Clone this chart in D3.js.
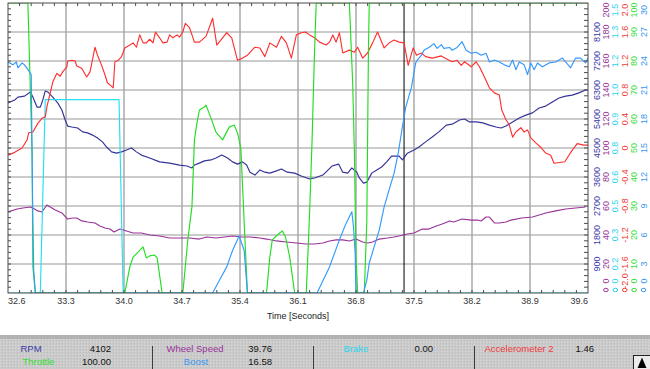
<!DOCTYPE html>
<html>
<head>
<meta charset="utf-8">
<script src="https://cdn.jsdelivr.net/npm/d3@7"></script>
<style>
  body { margin: 0; background: #fff; }
  svg { display: block; font-family: "Liberation Sans", Arial, sans-serif; }
</style>
</head>
<body>
<svg id="chart" width="650" height="369"></svg>
<script>
// time axis (seconds)
var timeTicks = [32.6, 33.3, 34.0, 34.7, 35.4, 36.1, 36.8, 37.5, 38.2, 38.9, 39.6];
var cursorTime = 37.38;

// RPM
var rpmTime = [32.60,32.68,32.72,32.80,32.87,32.90,32.95,32.99,33.02,33.05,33.08,33.14,33.20,33.25,33.29,33.32,33.37,33.44,33.50,33.56,33.62,33.68,33.74,33.79,33.85,33.91,33.97,34.03,34.09,34.15,34.21,34.31,34.43,34.55,34.67,34.76,34.82,34.85,34.91,34.97,35.05,35.11,35.18,35.25,35.31,35.37,35.43,35.48,35.52,35.58,35.64,35.70,35.76,35.84,35.90,35.97,36.06,36.14,36.24,36.30,36.40,36.51,36.59,36.64,36.70,36.75,36.81,36.84,36.89,36.93,36.99,37.05,37.11,37.17,37.23,37.29,37.32,37.36,37.42,37.50,37.56,37.64,37.72,37.80,37.89,37.96,38.05,38.11,38.17,38.25,38.33,38.41,38.49,38.55,38.61,38.69,38.77,38.85,38.93,39.01,39.09,39.17,39.25,39.33,39.41,39.49,39.57,39.60];
var rpmValue = [5900,5990,6080,6110,6240,6080,5770,5770,5990,6270,6240,6080,5900,5680,5370,5180,5150,5120,5000,4970,4900,4810,4690,4530,4380,4340,4380,4440,4500,4380,4280,4190,4070,4030,3970,3940,3880,3970,4030,4100,4130,4190,4280,4190,4070,4000,4070,3970,3750,3660,3820,3750,3720,3790,3850,3750,3720,3630,3540,3570,3660,3940,4000,3750,3720,3880,3750,3570,3410,3440,3720,3820,3910,4070,4250,4250,4250,4130,4340,4440,4530,4690,4840,5000,5210,5240,5370,5400,5310,5310,5280,5210,5150,5120,5180,5310,5430,5520,5590,5740,5800,5930,6050,6110,6140,6210,6300,6300];

// Wheel Speed
var wheelTime = [32.60,32.71,32.78,32.87,32.90,32.96,33.01,33.07,33.11,33.17,33.25,33.32,33.38,33.43,33.49,33.56,33.65,33.71,33.77,33.83,33.88,33.95,34.03,34.11,34.21,34.31,34.43,34.55,34.79,34.91,35.00,35.11,35.21,35.31,35.43,35.52,35.64,35.72,35.84,35.96,36.08,36.20,36.30,36.40,36.48,36.56,36.64,36.72,36.80,36.88,36.94,37.00,37.08,37.18,37.26,37.32,37.42,37.50,37.60,37.68,37.77,37.84,37.93,37.98,38.08,38.19,38.27,38.31,38.37,38.41,38.47,38.53,38.61,38.67,38.80,38.93,39.09,39.21,39.33,39.45,39.57];
var wheelValue = [55.9,57.9,58.6,59.3,58.6,56.6,55.9,60.7,59.3,57.2,55.2,51.0,51.7,51.7,49.7,49.0,48.3,46.2,44.8,44.1,42.1,44.1,42.8,41.4,41.4,40.0,39.3,37.9,37.9,37.2,38.6,37.9,38.6,39.3,38.6,38.6,37.9,37.2,35.9,35.2,34.5,33.8,33.8,34.5,35.9,36.6,36.6,35.9,37.2,35.2,34.5,35.2,37.2,37.9,38.6,39.3,40.7,41.4,44.1,44.1,46.2,47.6,49.7,49.0,51.0,50.3,50.3,49.7,52.4,52.4,48.3,48.3,49.0,50.3,51.7,52.4,55.2,56.6,57.9,58.6,59.3];

// Brake
var brakeTime = [32.60,32.99,33.05,33.94,33.99,39.60];
var brakeValue = [0,0,1.0,1.0,0,0];

// Accelerometer 2
var accTime = [32.60,32.68,32.77,32.83,32.85,32.90,32.96,33.01,33.05,33.07,33.11,33.14,33.19,33.23,33.26,33.31,33.32,33.37,33.41,33.43,33.49,33.55,33.59,33.65,33.68,33.73,33.77,33.80,33.83,33.87,33.89,33.93,33.97,34.01,34.07,34.11,34.15,34.19,34.23,34.27,34.31,34.35,34.38,34.43,34.47,34.52,34.55,34.59,34.64,34.67,34.71,34.74,34.79,34.85,34.91,34.99,35.07,35.12,35.19,35.24,35.30,35.37,35.43,35.49,35.58,35.64,35.70,35.76,35.84,35.90,35.96,36.02,36.08,36.14,36.19,36.24,36.30,36.36,36.44,36.48,36.52,36.56,36.60,36.64,36.72,36.78,36.82,36.88,36.94,37.00,37.06,37.14,37.20,37.26,37.32,37.38,37.43,37.49,37.53,37.59,37.64,37.72,37.83,37.89,37.96,38.02,38.07,38.11,38.19,38.25,38.29,38.35,38.41,38.47,38.53,38.56,38.61,38.65,38.69,38.73,38.79,38.83,38.87,38.91,38.97,39.03,39.09,39.15,39.19,39.32,39.37,39.41,39.47,39.55,39.60];
var accValue = [-0.10,-0.06,0.00,0.11,0.21,0.22,0.34,0.41,0.43,0.57,0.76,0.91,1.03,0.99,1.05,1.12,1.20,1.21,1.20,1.13,1.10,0.98,1.05,1.39,1.28,1.14,1.01,0.90,0.87,0.83,1.19,1.21,1.26,1.38,1.42,1.45,1.39,1.56,1.45,1.45,1.50,1.45,1.60,1.52,1.45,1.46,1.56,1.52,1.56,1.53,1.60,1.72,1.66,1.46,1.46,1.54,1.79,1.42,1.52,1.59,1.52,1.21,1.24,1.28,1.39,1.38,1.26,1.45,1.39,1.54,1.45,1.24,1.56,1.59,1.60,1.56,1.52,1.46,1.42,1.46,1.56,1.46,1.59,1.31,1.35,1.32,1.39,1.24,1.31,1.45,1.60,1.38,1.45,1.49,1.46,1.45,1.14,1.38,1.28,1.31,1.26,1.24,1.27,1.23,1.19,1.21,1.14,1.19,1.12,1.19,1.12,0.98,0.83,0.76,0.73,0.52,0.39,0.32,0.15,0.22,0.28,0.22,0.25,0.14,0.07,0.01,-0.07,-0.10,-0.21,-0.19,-0.10,-0.03,0.06,0.04,0.04];

// Throttle
var throttleTime = [32.60,32.84,32.89,32.90,32.93,34.01,34.07,34.11,34.17,34.23,34.27,34.31,34.37,34.40,34.46,34.71,34.77,34.82,34.85,34.88,34.91,34.97,34.99,35.05,35.11,35.19,35.27,35.33,35.37,35.41,35.46,35.49,35.72,35.76,35.79,35.85,35.91,35.95,36.00,36.06,36.20,36.24,36.27,36.30,36.32,36.72,36.76,36.78,36.80,36.82,36.90,36.93,36.94,36.95,36.96,39.60];
var throttleValue = [100,100,49.3,9.0,0,0,9.0,12.4,14.1,15.9,12.1,12.8,13.1,12.1,0,0,18.3,29.7,52.8,58.6,63.1,64.1,64.8,60.3,55.5,52.8,57.2,57.9,55.2,50.0,18.3,0,0,12.4,18.3,20.0,21.4,19.3,12.4,0,0,27.6,52.8,83.8,100,100,72.4,49.3,12.4,0,0,24.1,52.8,83.8,100,100];

// Boost
var boostTime = [32.60,32.66,32.70,32.72,32.77,32.80,32.84,32.88,32.89,32.90,32.91,32.93,35.07,35.15,35.24,35.31,35.39,35.45,35.49,36.33,36.48,36.60,36.68,36.75,36.77,36.79,36.80,36.89,36.93,36.96,37.02,37.08,37.14,37.20,37.26,37.31,37.36,37.40,37.47,37.52,37.54,37.59,37.62,37.68,37.74,37.78,37.83,37.86,37.93,37.96,38.02,38.08,38.13,38.19,38.25,38.31,38.37,38.41,38.47,38.53,38.59,38.65,38.69,38.73,38.77,38.83,38.87,38.91,38.95,38.99,39.05,39.13,39.21,39.29,39.33,39.39,39.45,39.51,39.57,39.60];
var boostValue = [23.9,23.6,23.9,23.3,23.8,23.6,23.1,22.6,14.8,7.6,2.4,0,0,1.3,2.7,4.4,5.9,4.4,0,0,2.7,5.5,7.2,8.4,6.8,4.1,0,0,1.3,3.1,4.8,6.5,8.9,10.7,12.4,14.5,17.2,19.2,21.3,23.8,24.1,24.6,25.1,25.4,25.8,25.3,25.7,25.3,25.4,25.1,25.4,26.0,25.1,24.8,24.9,24.6,24.8,23.9,24.1,23.9,23.6,23.4,24.1,23.1,23.9,23.6,22.6,23.8,23.1,23.8,23.4,23.8,23.9,24.3,23.9,23.3,24.3,24.3,23.8,24.3];

// right hand axis labels, one column per channel
var rpmTicks = [900,1800,2700,3600,4500,5400,6300,7200,8100];
var rpmLabels = ["900","1800","2700","3600","4500","5400","6300","7200","8100"];
var wheelTicks = [0,20,40,60,80,100,120,140,160,180,200];
var wheelLabels = ["0","20","40","60","80","100","120","140","160","180","200"];
var brakeTicks = [0,0.15,0.3,0.45,0.6,0.75,0.9,1.05,1.2,1.35,1.5];
var brakeLabels = ["0","0.2","0.3","0.5","0.6","0.8","0.9","1.0","1.2","1.3","1.5"];
var accTicks = [-2,-1.6,-1.2,-0.8,-0.4,0,0.4,0.8,1.2,1.6,2];
var accLabels = ["-2.0","-1.6","-1.2","-0.8","-0.4","0","0.4","0.8","1.2","1.6","2.0"];
var throttleTicks = [0,10,20,30,40,50,60,70,80,90,100];
var throttleLabels = ["0","10","20","30","40","50","60","70","80","90","100"];
var boostTicks = [0,3,6,9,12,15,18,21,24,27,30];
var boostLabels = ["0","3","6","9","12","15","18","21","24","27","30"];

// values shown at the cursor
var readoutNames = ["RPM","Throttle","Wheel Speed","Boost","Brake","Accelerometer 2"];
var readoutValues = ["4102","100.00","39.76","16.58","0.00","1.46"];

(function() {
  var channels = [
    { name: "RPM", color: "#333399", domain: [0, 9000], time: rpmTime, value: rpmValue, ticks: rpmTicks, labels: rpmLabels },
    { name: "Wheel Speed", color: "#993399", domain: [0, 200], time: wheelTime, value: wheelValue, ticks: wheelTicks, labels: wheelLabels },
    { name: "Brake", color: "#22e0f0", domain: [0, 1.5], time: brakeTime, value: brakeValue, ticks: brakeTicks, labels: brakeLabels },
    { name: "Accelerometer 2", color: "#ff3030", domain: [-2, 2], time: accTime, value: accValue, ticks: accTicks, labels: accLabels },
    { name: "Throttle", color: "#22dd22", domain: [0, 100], time: throttleTime, value: throttleValue, ticks: throttleTicks, labels: throttleLabels },
    { name: "Boost", color: "#3399ff", domain: [0, 30], time: boostTime, value: boostValue, ticks: boostTicks, labels: boostLabels }
  ];
  var labelColors = { "RPM": "#3a3aa8", "Wheel Speed": "#993399", "Brake": "#2ad4ee", "Accelerometer 2": "#f03a3a", "Throttle": "#33dd33", "Boost": "#3896ee" };

  // plot box
  var pLeft = 8, pRight = 588, pTop = 3, pBottom = 293;
  var svg = d3.select("#chart");

  var x = d3.scaleLinear().domain([32.6, 39.6]).range([pLeft, pRight]);
  var div = d3.scaleLinear().domain([0, 10]).range([pBottom, pTop]);   // 10 grid divisions

  var defs = svg.append("defs");
  defs.append("clipPath").attr("id", "plot")
    .append("rect").attr("x", pLeft).attr("y", pTop).attr("width", pRight - pLeft).attr("height", pBottom - pTop);

  var dots = defs.append("pattern").attr("id", "dots")
    .attr("width", 3).attr("height", 3).attr("patternUnits", "userSpaceOnUse");
  dots.append("rect").attr("width", 3).attr("height", 3).attr("fill", "#cacaca");
  dots.append("rect").attr("width", 1).attr("height", 1).attr("fill", "#dadada");
  dots.append("rect").attr("x", 2).attr("y", 1).attr("width", 1).attr("height", 1).attr("fill", "#bdbdbd");

  // grid lines
  svg.append("g").selectAll("line").data(d3.range(1, 10)).join("line")
    .attr("x1", pLeft).attr("x2", pRight)
    .attr("y1", function(d) { return div(d); }).attr("y2", function(d) { return div(d); })
    .attr("stroke", "#bababa").attr("stroke-width", 1.6);
  svg.append("g").selectAll("line").data(timeTicks.slice(1, -1)).join("line")
    .attr("x1", function(d) { return x(d); }).attr("x2", function(d) { return x(d); })
    .attr("y1", pTop).attr("y2", pBottom)
    .attr("stroke", "#a4a4a4").attr("stroke-width", 1.4);

  // cursor
  svg.append("line")
    .attr("x1", x(cursorTime)).attr("x2", x(cursorTime)).attr("y1", pTop).attr("y2", pBottom)
    .attr("stroke", "#000").attr("stroke-width", 1);

  // traces, each on its own scale
  var traces = svg.append("g").attr("clip-path", "url(#plot)");
  channels.forEach(function(c) {
    var y = d3.scaleLinear().domain(c.domain).range([pBottom, pTop]);
    var line = d3.line()
      .x(function(d) { return x(d[0]); })
      .y(function(d) { return y(d[1]); });
    traces.append("path")
      .datum(d3.zip(c.time, c.value))
      .attr("d", line)
      .attr("fill", "none")
      .attr("stroke", c.color)
      .attr("stroke-width", 1.15)
      .attr("stroke-linejoin", "round");
  });

  // frame and small ticks
  svg.append("rect")
    .attr("x", pLeft).attr("y", pTop).attr("width", pRight - pLeft).attr("height", pBottom - pTop)
    .attr("fill", "none").attr("stroke", "#4a4a4a").attr("stroke-width", 1);

  var frame = svg.append("g").attr("stroke", "#4a4a4a").attr("stroke-width", 1);
  var yMinor = d3.range(1, 50).map(function(i) { return div(i / 5); });
  var xMinor = d3.range(1, 50).map(function(i) { return x(32.6 + i * 0.14); });
  frame.selectAll(".yl").data(yMinor).join("line").attr("class", "yl")
    .attr("x1", pLeft).attr("x2", pLeft + 3).attr("y1", function(d) { return d; }).attr("y2", function(d) { return d; });
  frame.selectAll(".yr").data(yMinor).join("line").attr("class", "yr")
    .attr("x1", pRight - 4).attr("x2", pRight).attr("y1", function(d) { return d; }).attr("y2", function(d) { return d; });
  frame.selectAll(".xt").data(xMinor).join("line").attr("class", "xt")
    .attr("x1", function(d) { return d; }).attr("x2", function(d) { return d; }).attr("y1", pTop).attr("y2", pTop + 3);
  frame.selectAll(".xb").data(xMinor).join("line").attr("class", "xb")
    .attr("x1", function(d) { return d; }).attr("x2", function(d) { return d; }).attr("y1", pBottom - 3).attr("y2", pBottom);

  // time labels
  svg.append("g").selectAll("text").data(timeTicks).join("text")
    .attr("x", function(d) { return x(d); })
    .attr("y", 304)
    .attr("text-anchor", function(d, i) { return i === 0 ? "start" : (i === timeTicks.length - 1 ? "end" : "middle"); })
    .attr("font-size", 9).attr("fill", "#333")
    .text(function(d) { return d.toFixed(1); });

  svg.append("text")
    .attr("x", (pLeft + pRight) / 2).attr("y", 319)
    .attr("text-anchor", "middle").attr("font-size", 9).attr("fill", "#222")
    .text("Time [Seconds]");

  // rotated axis columns on the right
  channels.forEach(function(c, i) {
    var cx = 596.5 + i * 9.4;
    var y = d3.scaleLinear().domain(c.domain).range([pBottom, pTop]);
    svg.append("g").selectAll("text").data(c.ticks).join("text")
      .attr("transform", function(d) {
        var py = y(d);
        if (d === c.domain[1]) py = 10;
        if (d === c.domain[0]) py = 281;
        return "translate(" + cx + "," + py + ") rotate(-90)";
      })
      .attr("text-anchor", "middle")
      .attr("dominant-baseline", "central")
      .attr("font-size", 9)
      .attr("fill", labelColors[c.name])
      .text(function(d, j) { return c.labels[j]; });
    if (i > 0) {
      svg.append("ellipse")
        .attr("cx", cx).attr("cy", 290).attr("rx", 2.3).attr("ry", 1.7)
        .attr("fill", "none").attr("stroke", labelColors[c.name]).attr("stroke-width", 1);
    }
  });

  // readout panel
  svg.append("rect").attr("x", 0).attr("y", 335).attr("width", 650).attr("height", 4).attr("fill", "#b2b2b2");
  svg.append("rect").attr("x", 0).attr("y", 339).attr("width", 650).attr("height", 30).attr("fill", "url(#dots)");

  svg.append("g").selectAll("line").data([152, 313, 474]).join("line")
    .attr("x1", function(d) { return d + 0.5; }).attr("x2", function(d) { return d + 0.5; })
    .attr("y1", 346).attr("y2", 369)
    .attr("stroke", "#3c3c3c").attr("stroke-width", 1);

  var nameX = [31, 38.5, 195, 196, 356, 519];
  var valueX = [111, 111, 272, 272, 433, 594];
  var rowY = [352, 365, 352, 365, 352, 352];
  var panel = svg.append("g").attr("font-size", 9.5);
  readoutNames.forEach(function(n, i) {
    panel.append("text").attr("x", nameX[i]).attr("y", rowY[i])
      .attr("text-anchor", "middle").attr("fill", labelColors[n]).text(n);
    panel.append("text").attr("x", valueX[i]).attr("y", rowY[i])
      .attr("text-anchor", "end").attr("fill", "#111").text(readoutValues[i]);
  });

  // scroll button
  svg.append("rect").attr("x", 633.5).attr("y", 355.5).attr("width", 17).attr("height", 14)
    .attr("fill", "#ececec").attr("stroke", "#222");
  svg.append("path").attr("d", "M642,357.5 L637.5,368 L646.5,368 Z").attr("fill", "#000");
})();
</script>
</body>
</html>
